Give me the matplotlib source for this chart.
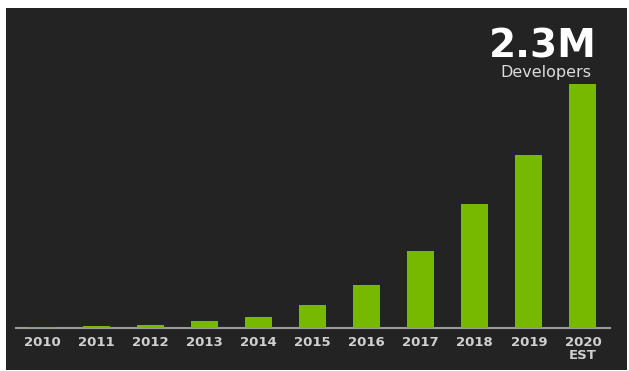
import matplotlib.pyplot as plt
from matplotlib.patches import Rectangle

# data (millions of developers)
years = ["2010", "2011", "2012", "2013", "2014", "2015", "2016", "2017", "2018", "2019", "2020\nEST"]
devs = [0.006, 0.016, 0.032, 0.066, 0.10, 0.22, 0.41, 0.73, 1.17, 1.63, 2.3]

W, H = 629, 371
fig = plt.figure(figsize=(W / 100, H / 100), dpi=100, facecolor="white")

# dark panel behind everything
fig.patches.append(Rectangle((6 / W, 1 - 370 / H), 621 / W, 362 / H,
                             transform=fig.transFigure, facecolor="#232323",
                             edgecolor="none", zorder=-10))

# axes placed so the baseline sits at y=328 px
ax = fig.add_axes([16 / W, 1 - 328 / H, 594 / W, 244 / H])
ax.set_facecolor("none")
ax.bar(range(len(devs)), devs, width=0.5, color="#76b900", zorder=3)
ax.set_xlim(-0.48, 10.5)
ax.set_ylim(0, 2.3)

for s in ["top", "right", "left"]:
    ax.spines[s].set_visible(False)
ax.spines["bottom"].set_color("#9a9a9a")
ax.spines["bottom"].set_linewidth(1.5)
ax.set_yticks([])
ax.set_xticks(range(len(years)))
ax.set_xticklabels(years, fontfamily="DejaVu Sans", fontweight="bold",
                   fontsize=9.5, color="#d0d0d0", linespacing=1.0)
ax.tick_params(axis="x", length=0, pad=6)

fig.text(543 / W, 1 - 46 / H, "2.3M", fontfamily="DejaVu Sans", fontweight="bold",
         fontsize=28, color="white", ha="center", va="center")
fig.text(546 / W, 1 - 72 / H, "Developers", fontfamily="DejaVu Sans",
         fontsize=11.5, color="#dcdcdc", ha="center", va="center")

fig.savefig("out.png", dpi=100, facecolor="white")
